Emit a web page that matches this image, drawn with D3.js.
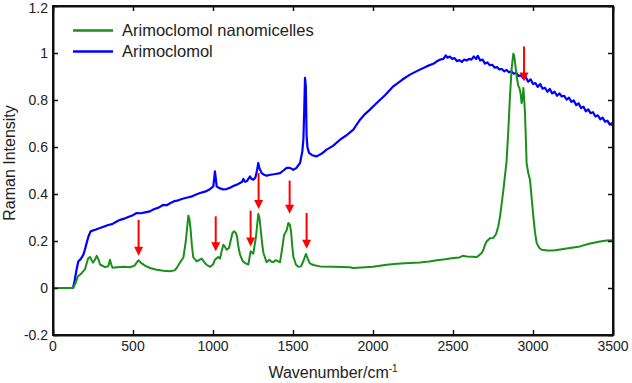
<!DOCTYPE html>
<html>
<head>
<meta charset="utf-8">
<script src="https://cdn.jsdelivr.net/npm/d3@7"></script>
<style>
  body { margin: 0; background: #fff; }
  text { font-family: "Liberation Sans", Arial, sans-serif; fill: #222; }
</style>
</head>
<body>
<script>
// Raman spectra: wavenumber (cm-1) and intensity

// Arimoclomol nanomicelles (green)
var nanoWn = [0, 60, 125, 140, 156, 175, 200, 219, 231, 250, 262, 273, 285, 294, 325, 345, 356, 364, 372, 400,
  440, 480, 510, 525, 535, 548, 575, 606, 648, 690, 731, 760, 773, 795, 815, 830, 846, 853, 860, 868,
  877, 898, 915, 929, 945, 960, 981, 1000, 1012, 1025, 1033, 1044, 1055, 1065, 1075, 1085, 1100, 1110, 1122, 1131,
  1142, 1150, 1160, 1169, 1185, 1200, 1221, 1235, 1245, 1252, 1262, 1269, 1283, 1290, 1298, 1307, 1315, 1335, 1352, 1365,
  1377, 1390, 1398, 1410, 1419, 1435, 1444, 1460, 1471, 1480, 1488, 1495, 1502, 1518, 1533, 1550, 1565, 1581, 1592, 1605,
  1627, 1669, 1750, 1856, 1877, 1950, 2000, 2085, 2150, 2200, 2294, 2350, 2400, 2450, 2502, 2540, 2560, 2585, 2620, 2648,
  2665, 2679, 2690, 2700, 2710, 2731, 2752, 2769, 2783, 2794, 2815, 2835, 2845, 2856, 2866, 2877, 2882, 2887, 2898, 2908,
  2915, 2922, 2929, 2935, 2940, 2945, 2950, 2956, 2960, 2970, 2981, 2992, 3002, 3012, 3023, 3040, 3054, 3090, 3127, 3180,
  3230, 3294, 3350, 3419, 3460, 3500];
var nanoInt = [0, 0, 0, 0.02, 0.05, 0.06, 0.08, 0.125, 0.132, 0.108, 0.12, 0.137, 0.12, 0.1, 0.089, 0.092, 0.12, 0.1, 0.086, 0.088,
  0.09, 0.088, 0.095, 0.11, 0.118, 0.108, 0.095, 0.085, 0.078, 0.073, 0.071, 0.075, 0.085, 0.11, 0.13, 0.2, 0.308, 0.29, 0.25, 0.18,
  0.13, 0.113, 0.12, 0.125, 0.11, 0.099, 0.09, 0.1, 0.12, 0.128, 0.132, 0.125, 0.16, 0.184, 0.175, 0.163, 0.17, 0.2, 0.235, 0.241,
  0.235, 0.22, 0.17, 0.142, 0.115, 0.106, 0.1, 0.156, 0.15, 0.146, 0.19, 0.22, 0.316, 0.3, 0.25, 0.19, 0.149, 0.11, 0.12, 0.112,
  0.11, 0.118, 0.117, 0.112, 0.11, 0.18, 0.225, 0.245, 0.277, 0.27, 0.24, 0.18, 0.134, 0.1, 0.09, 0.092, 0.115, 0.145, 0.125, 0.105,
  0.098, 0.092, 0.09, 0.088, 0.085, 0.088, 0.09, 0.099, 0.103, 0.105, 0.109, 0.113, 0.118, 0.122, 0.128, 0.13, 0.137, 0.134, 0.133, 0.132,
  0.14, 0.149, 0.163, 0.184, 0.198, 0.212, 0.213, 0.23, 0.262, 0.305, 0.418, 0.54, 0.66, 0.815, 0.93, 0.997, 0.99, 0.964, 0.9, 0.86,
  0.851, 0.83, 0.787, 0.81, 0.851, 0.8, 0.745, 0.62, 0.532, 0.49, 0.461, 0.38, 0.305, 0.24, 0.191, 0.17, 0.163, 0.16, 0.16, 0.165,
  0.17, 0.177, 0.188, 0.198, 0.202, 0.203];

// Arimoclomol (blue)
var drugWn = [0, 125, 135, 145, 158, 175, 190, 200, 210, 222, 235, 250, 265, 280, 294, 320, 345, 370, 398, 420,
  445, 470, 500, 523, 550, 575, 606, 630, 660, 690, 710, 735, 760, 783, 810, 840, 870, 895, 919, 950,
  975, 1002, 1008, 1012, 1017, 1023, 1040, 1060, 1085, 1110, 1130, 1150, 1169, 1182, 1190, 1200, 1210, 1222, 1231, 1240,
  1252, 1265, 1275, 1283, 1290, 1304, 1320, 1335, 1360, 1390, 1419, 1440, 1460, 1481, 1502, 1520, 1544, 1558, 1565, 1570,
  1575, 1580, 1585, 1590, 1600, 1620, 1648, 1680, 1710, 1750, 1794, 1835, 1877, 1919, 1950, 1981, 2023, 2075, 2127, 2180,
  2231, 2280, 2335, 2380, 2400, 2420, 2440, 2455, 2465, 2480, 2495, 2510, 2525, 2540, 2555, 2570, 2585, 2600, 2615, 2630,
  2645, 2655, 2670, 2685, 2700, 2715, 2730, 2745, 2760, 2775, 2790, 2805, 2820, 2835, 2850, 2865, 2880, 2895, 2910, 2925,
  2940, 2955, 2970, 2985, 3000, 3015, 3030, 3045, 3060, 3075, 3090, 3105, 3120, 3135, 3150, 3165, 3180, 3195, 3210, 3225,
  3240, 3255, 3270, 3285, 3300, 3315, 3330, 3345, 3360, 3375, 3390, 3405, 3420, 3435, 3450, 3465, 3480, 3490, 3500];
var drugInt = [0, 0, 0.03, 0.07, 0.113, 0.125, 0.142, 0.165, 0.191, 0.22, 0.241, 0.245, 0.248, 0.252, 0.255, 0.262, 0.268, 0.272, 0.283, 0.29,
  0.295, 0.302, 0.31, 0.319, 0.318, 0.322, 0.326, 0.335, 0.342, 0.354, 0.352, 0.362, 0.37, 0.373, 0.38, 0.385, 0.39, 0.398, 0.404, 0.41,
  0.418, 0.432, 0.47, 0.496, 0.47, 0.432, 0.425, 0.42, 0.421, 0.428, 0.435, 0.44, 0.447, 0.452, 0.464, 0.452, 0.454, 0.465, 0.475, 0.465,
  0.461, 0.47, 0.5, 0.532, 0.51, 0.489, 0.482, 0.478, 0.482, 0.485, 0.489, 0.5, 0.511, 0.511, 0.503, 0.51, 0.532, 0.58, 0.631, 0.75,
  0.894, 0.86, 0.65, 0.6, 0.575, 0.565, 0.56, 0.572, 0.589, 0.605, 0.631, 0.65, 0.674, 0.716, 0.74, 0.759, 0.787, 0.82, 0.858, 0.885,
  0.908, 0.925, 0.943, 0.955, 0.965, 0.972, 0.975, 0.99, 0.98, 0.985, 0.975, 0.978, 0.965, 0.97, 0.962, 0.972, 0.968, 0.975, 0.972, 0.985,
  0.975, 0.988, 0.968, 0.972, 0.955, 0.96, 0.948, 0.95, 0.938, 0.94, 0.93, 0.932, 0.922, 0.928, 0.918, 0.922, 0.912, 0.915, 0.902, 0.905,
  0.892, 0.897, 0.878, 0.888, 0.868, 0.872, 0.856, 0.868, 0.848, 0.852, 0.835, 0.847, 0.828, 0.835, 0.818, 0.828, 0.815, 0.818, 0.802, 0.81,
  0.792, 0.798, 0.778, 0.786, 0.766, 0.772, 0.752, 0.76, 0.744, 0.748, 0.73, 0.735, 0.718, 0.725, 0.708, 0.712, 0.695, 0.7, 0.688];

// Red arrows: wavenumber, start value (top) and tip value
var arrowWn = [535, 1017, 1235, 1285, 1479, 1585, 2944];
var arrowTop = [0.29, 0.305, 0.329, 0.489, 0.457, 0.319, 1.028];
var arrowTip = [0.137, 0.156, 0.177, 0.336, 0.316, 0.167, 0.879];

var xTicks = [0, 500, 1000, 1500, 2000, 2500, 3000, 3500];
var yTicks = [-0.2, 0, 0.2, 0.4, 0.6, 0.8, 1, 1.2];
var seriesNames = ["Arimoclomol nanomicelles", "Arimoclomol"];
var seriesColors = ["#1a8f1a", "#0000ff"];

// Canvas
var width = 632, height = 383;
var svg = d3.select("body").append("svg")
    .attr("width", width)
    .attr("height", height);

var x = d3.scaleLinear().domain([0, 3500]).range([53, 613]);
var y = d3.scaleLinear().domain([-0.2, 1.2]).range([335, 6]);

// Lines
var line = d3.line()
    .x(function(d) { return x(d[0]); })
    .y(function(d) { return y(d[1]); });

var drug = drugWn.map(function(w, i) { return [w, drugInt[i]]; });
var nano = nanoWn.map(function(w, i) { return [w, nanoInt[i]]; });

svg.append("path").datum(drug)
    .attr("d", line).attr("fill", "none")
    .attr("stroke", seriesColors[1]).attr("stroke-width", 2.2)
    .attr("stroke-linejoin", "round");

svg.append("path").datum(nano)
    .attr("d", line).attr("fill", "none")
    .attr("stroke", seriesColors[0]).attr("stroke-width", 2)
    .attr("stroke-linejoin", "round");

// Arrows
var arrows = arrowWn.map(function(w, i) { return { w: w, top: arrowTop[i], tip: arrowTip[i] }; });
var ag = svg.append("g").selectAll("g").data(arrows).enter().append("g");
ag.append("line")
    .attr("x1", function(d) { return x(d.w); })
    .attr("x2", function(d) { return x(d.w); })
    .attr("y1", function(d) { return y(d.top); })
    .attr("y2", function(d) { return y(d.tip) - 8; })
    .attr("stroke", "#ff0000").attr("stroke-width", 2);
ag.append("path")
    .attr("d", function(d) {
        var cx = x(d.w), ty = y(d.tip);
        return "M" + (cx - 4.5) + "," + (ty - 9) + "L" + (cx + 4.5) + "," + (ty - 9) + "L" + cx + "," + ty + "Z";
    })
    .attr("fill", "#ff0000");

// Axes (box with inward ticks)
svg.append("g").attr("transform", "translate(0," + y(-0.2) + ")")
    .call(d3.axisBottom(x).tickValues(xTicks).tickSize(-5).tickSizeOuter(0).tickFormat(""));
svg.append("g").attr("transform", "translate(0," + y(1.2) + ")")
    .call(d3.axisTop(x).tickValues(xTicks).tickSize(-5).tickSizeOuter(0).tickFormat(""));
svg.append("g").attr("transform", "translate(" + x(0) + ",0)")
    .call(d3.axisLeft(y).tickValues(yTicks).tickSize(-5).tickSizeOuter(0).tickFormat(""));
svg.append("g").attr("transform", "translate(" + x(3500) + ",0)")
    .call(d3.axisRight(y).tickValues(yTicks).tickSize(-5).tickSizeOuter(0).tickFormat(""));
svg.selectAll(".domain").attr("stroke", "#111").attr("stroke-width", 2);
svg.selectAll(".tick line").attr("stroke", "#111").attr("stroke-width", 1.5);

svg.append("rect")
    .attr("x", x(0)).attr("y", y(1.2))
    .attr("width", x(3500) - x(0)).attr("height", y(-0.2) - y(1.2))
    .attr("fill", "none").attr("stroke", "#111").attr("stroke-width", 2);

// Tick labels
svg.append("g").selectAll("text").data(xTicks).enter().append("text")
    .attr("x", function(d) { return x(d); })
    .attr("y", 351)
    .attr("text-anchor", "middle")
    .attr("font-size", 14)
    .text(function(d) { return d; });

svg.append("g").selectAll("text").data(yTicks).enter().append("text")
    .attr("x", 48)
    .attr("y", function(d) { return Math.max(y(d) + 5, 13); })
    .attr("text-anchor", "end")
    .attr("font-size", 14)
    .text(function(d) { return d; });

// Axis titles
var xt = svg.append("text")
    .attr("x", 333).attr("y", 378)
    .attr("text-anchor", "middle")
    .attr("font-size", 16);
xt.append("tspan").text("Wavenumber/cm");
xt.append("tspan").attr("dy", -6).attr("font-size", 10).text("-1");

svg.append("text")
    .attr("transform", "translate(15,163) rotate(-90)")
    .attr("text-anchor", "middle")
    .attr("font-size", 16)
    .text("Raman Intensity");

// Legend
var lg = svg.append("g").selectAll("g").data(seriesNames).enter().append("g")
    .attr("transform", function(d, i) { return "translate(0," + (30.5 + i * 21) + ")"; });
lg.append("line")
    .attr("x1", 73).attr("x2", 113)
    .attr("stroke", function(d, i) { return seriesColors[i]; })
    .attr("stroke-width", 2.5);
lg.append("text")
    .attr("x", 122).attr("y", 5.5)
    .attr("font-family", "'Noto Sans', sans-serif")
    .attr("font-size", 16.5)
    .text(function(d) { return d; });
</script>
</body>
</html>
